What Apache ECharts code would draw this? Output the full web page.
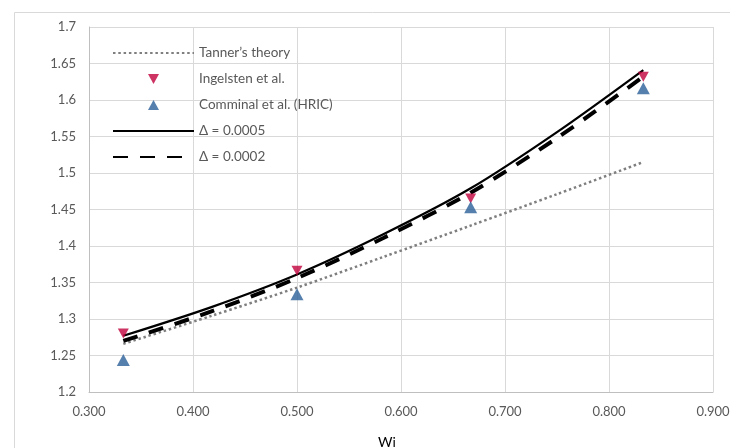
<!DOCTYPE html>
<html>
<head>
<meta charset="utf-8">
<script src="https://cdn.jsdelivr.net/npm/echarts@6/dist/echarts.min.js"></script>
<style>
  html, body { margin: 0; padding: 0; background: #fff; }
  #chart { width: 730px; height: 448px; }
</style>
</head>
<body>
<div id="chart"></div>
<script>
// Weissenberg numbers of the computed / reference cases
const wiLine = [0.333, 0.417, 0.5, 0.583, 0.667, 0.75, 0.833];
const wiPoints = [0.333, 0.5, 0.667, 0.833];

// Swell ratio curves
const tanner = [1.266, 1.304, 1.343, 1.385, 1.428, 1.471, 1.515];
const delta0005 = [1.277, 1.316, 1.361, 1.416, 1.479, 1.556, 1.641];
const delta0002 = [1.270, 1.310, 1.356, 1.411, 1.473, 1.548, 1.632];

// Reference results
const ingelsten = [1.280, 1.366, 1.465, 1.632];
const comminal = [1.244, 1.334, 1.453, 1.616];

// Axis ticks
const xTicks = [0.3, 0.4, 0.5, 0.6, 0.7, 0.8, 0.9];
const yTicks = [1.2, 1.25, 1.3, 1.35, 1.4, 1.45, 1.5, 1.55, 1.6, 1.65, 1.7];

const seriesNames = ['Tanner\u2019s theory', 'Ingelsten et al.', 'Comminal et al. (HRIC)', '\u0394 = 0.0005', '\u0394 = 0.0002'];

const pair = (xs, ys) => xs.map((x, i) => [x, ys[i]]);

const FONT = 'Lato, "Open Sans", sans-serif';

// Legend icons: a small triangle centred in an 81x14 box (the leading moves fix the box)
const ICON_DOWN = 'path://M0 0 M81 14 M35 2 L46 2 L40.5 12 Z';
const ICON_UP = 'path://M0 0 M81 14 M35 12 L46 12 L40.5 2 Z';

const chart = echarts.init(document.getElementById('chart'), null, { renderer: 'canvas' });

chart.setOption({
  animation: false,
  backgroundColor: '#ffffff',
  textStyle: { fontFamily: FONT },
  graphic: [{
    type: 'rect',
    left: 12, top: 10,
    shape: { width: 740, height: 460 },
    style: { fill: 'none', stroke: '#d9d9d9', lineWidth: 1 },
    silent: true,
    z: -1
  }],
  grid: { left: 89, right: 17, top: 27, bottom: 56, outerBoundsMode: 'none', containLabel: false },
  legend: {
    orient: 'vertical',
    left: 107, top: 41,
    itemWidth: 81, itemHeight: 14, itemGap: 12,
    textStyle: { fontFamily: FONT, fontSize: 13.5, color: '#595959' },
    data: [
      { name: seriesNames[0], itemStyle: { opacity: 0 } },
      { name: seriesNames[1], icon: ICON_DOWN, symbolRotate: 0 },
      { name: seriesNames[2], icon: ICON_UP, symbolRotate: 0 },
      { name: seriesNames[3], itemStyle: { opacity: 0 } },
      { name: seriesNames[4], itemStyle: { opacity: 0 } }
    ]
  },
  xAxis: {
    type: 'value',
    min: xTicks[0], max: xTicks[xTicks.length - 1], interval: 0.1,
    name: 'Wi',
    nameLocation: 'middle',
    nameGap: 43,
    nameTextStyle: { fontFamily: FONT, fontSize: 14, color: '#000', padding: [0, 28, 0, 0] },
    axisLine: { show: true, lineStyle: { color: '#bfbfbf', width: 1 } },
    axisTick: { show: false },
    axisLabel: {
      margin: 13, color: '#595959', fontSize: 13, fontFamily: FONT,
      formatter: v => v.toFixed(3)
    },
    splitLine: { show: true, lineStyle: { color: '#d9d9d9', width: 1 } }
  },
  yAxis: {
    type: 'value',
    min: yTicks[0], max: yTicks[yTicks.length - 1], interval: 0.05,
    axisLine: { show: true, lineStyle: { color: '#bfbfbf', width: 1 } },
    axisTick: { show: false },
    axisLabel: {
      margin: 13, color: '#595959', fontSize: 13, fontFamily: FONT,
      formatter: v => String(parseFloat(v.toFixed(2)))
    },
    splitLine: { show: true, lineStyle: { color: '#d9d9d9', width: 1 } }
  },
  series: [
    {
      name: seriesNames[0], type: 'line', smooth: 0.3, symbol: 'none',
      data: pair(wiLine, tanner),
      lineStyle: { color: '#7f7f7f', width: 2.5, type: [2.5, 2.8], cap: 'butt' },
      itemStyle: { color: '#7f7f7f' },
      z: 2
    },
    {
      name: seriesNames[1], type: 'scatter', symbol: 'triangle', symbolRotate: 180,
      symbolSize: [11, 10],
      data: pair(wiPoints, ingelsten),
      itemStyle: { color: '#c0003c' },
      z: 4
    },
    {
      name: seriesNames[2], type: 'scatter', symbol: 'triangle',
      symbolSize: [13, 12],
      data: pair(wiPoints, comminal),
      itemStyle: { color: '#2b5f98' },
      z: 4
    },
    {
      name: seriesNames[3], type: 'line', smooth: 0.3, symbol: 'none',
      data: pair(wiLine, delta0005),
      lineStyle: { color: '#000000', width: 2.25, type: 'solid' },
      itemStyle: { color: '#000000' },
      z: 3
    },
    {
      name: seriesNames[4], type: 'line', smooth: 0.3, symbol: 'none',
      data: pair(wiLine, delta0002),
      lineStyle: { color: '#000000', width: 4, type: [15, 12], cap: 'butt' },
      itemStyle: { color: '#000000' },
      z: 3
    }
  ]
});
</script>
</body>
</html>
